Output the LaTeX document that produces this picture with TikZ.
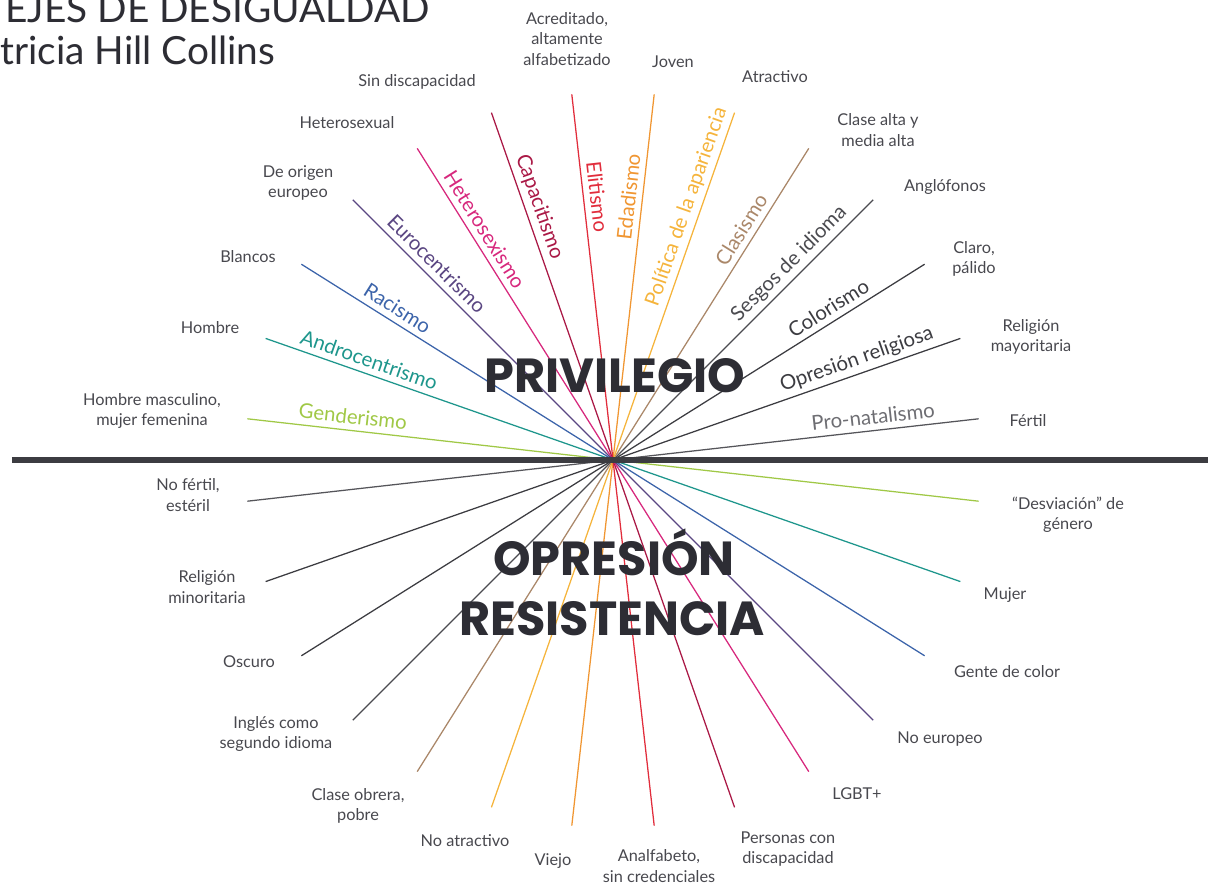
\documentclass[tikz,border=0pt]{standalone}
\usepackage{fontspec}
\setmainfont{Lato}
\newfontfamily\bigfont{Poppins}

\definecolor{ink}{RGB}{45,45,52}
\definecolor{labelgray}{RGB}{72,72,78}
\definecolor{gendercol}{RGB}{160,200,70}
\definecolor{androcol}{RGB}{30,150,140}
\definecolor{racecol}{RGB}{60,100,170}
\definecolor{eurocol}{RGB}{90,70,130}
\definecolor{heterocol}{RGB}{215,40,125}
\definecolor{abilitycol}{RGB}{170,25,70}
\definecolor{elitecol}{RGB}{225,45,60}
\definecolor{agecol}{RGB}{240,150,50}
\definecolor{looksc}{RGB}{245,180,60}
\definecolor{classcol}{RGB}{170,135,105}
\definecolor{langcol}{RGB}{75,75,80}
\definecolor{skincol}{RGB}{60,60,65}
\definecolor{faithcol}{RGB}{60,60,65}
\definecolor{natalcol}{RGB}{85,85,90}

\tikzset{
  ray/.style={line width=0.9pt},
  endlabel/.style={font=\fontsize{11.6}{14.5}\selectfont, text=labelgray, align=center, inner sep=0pt},
  axisname/.style={font=\fontsize{14.5}{17}\selectfont, inner sep=0pt},
  bigword/.style={font=\bigfont\bfseries\fontsize{34}{40}\selectfont, text=ink, anchor=base, inner sep=0pt},
  titletext/.style={font=\fontsize{27.6}{33}\selectfont, text=ink, anchor=base west, inner sep=0pt},
}

\begin{document}
\begin{tikzpicture}
  \useasboundingbox (-15.325,-10.675) rectangle (14.875,11.5);
  \coordinate (O) at (0,0);

  % ends of the fourteen axes
  \coordinate (natalU) at (6.43:9.2);    \coordinate (natalD) at (186.43:9.2);
  \coordinate (faithU) at (19.29:9.2);   \coordinate (faithD) at (199.29:9.2);
  \coordinate (skinU) at (32.14:9.2);    \coordinate (skinD) at (212.14:9.2);
  \coordinate (langU) at (45:9.2);       \coordinate (langD) at (225:9.2);
  \coordinate (classU) at (57.86:9.2);   \coordinate (classD) at (237.86:9.2);
  \coordinate (looksU) at (70.71:9.2);   \coordinate (looksD) at (250.71:9.2);
  \coordinate (ageU) at (83.57:9.2);     \coordinate (ageD) at (263.57:9.2);
  \coordinate (eliteU) at (96.43:9.2);   \coordinate (eliteD) at (276.43:9.2);
  \coordinate (abilityU) at (109.29:9.2);\coordinate (abilityD) at (289.29:9.2);
  \coordinate (heteroU) at (122.14:9.2); \coordinate (heteroD) at (302.14:9.2);
  \coordinate (euroU) at (135:9.2);      \coordinate (euroD) at (315:9.2);
  \coordinate (raceU) at (147.86:9.2);   \coordinate (raceD) at (327.86:9.2);
  \coordinate (androU) at (160.71:9.2);  \coordinate (androD) at (340.71:9.2);
  \coordinate (genderU) at (173.57:9.2); \coordinate (genderD) at (353.57:9.2);

  \draw[ray, natalcol] (natalU) -- (O) -- (natalD);
  \draw[ray, faithcol] (faithU) -- (O) -- (faithD);
  \draw[ray, skincol] (skinU) -- (O) -- (skinD);
  \draw[ray, langcol] (langU) -- (O) -- (langD);
  \draw[ray, classcol] (classU) -- (O) -- (classD);
  \draw[ray, looksc] (looksU) -- (O) -- (looksD);
  \draw[ray, agecol] (ageU) -- (O) -- (ageD);
  \draw[ray, elitecol] (eliteU) -- (O) -- (eliteD);
  \draw[ray, abilitycol] (abilityU) -- (O) -- (abilityD);
  \draw[ray, heterocol] (heteroU) -- (O) -- (heteroD);
  \draw[ray, eurocol] (euroU) -- (O) -- (euroD);
  \draw[ray, racecol] (raceU) -- (O) -- (raceD);
  \draw[ray, androcol] (androU) -- (O) -- (androD);
  \draw[ray, gendercol] (genderU) -- (O) -- (genderD);

  % dividing line
  \coordinate (baseW) at (-15.025,0);
  \coordinate (baseE) at (14.875,0);
  \draw[line width=3.6pt, skincol] (baseW) -- (baseE);

  % names of the axes
  \node[axisname, text=natalcol!85, rotate=6.43] (natal) at (9.48:6.59) {Pro-natalismo};
  \node[axisname, faithcol, rotate=19.29] (faith) at (22.34:6.59) {Opresión religiosa};
  \node[axisname, skincol, rotate=32.14] (skin) at (35.19:6.59) {Colorismo};
  \node[axisname, langcol, rotate=45] (lang) at (48.05:6.59) {Sesgos de idioma};
  \node[axisname, classcol, rotate=57.86] (class) at (60.91:6.59) {Clasismo};
  \node[axisname, looksc, rotate=70.71] (looks) at (73.76:6.59) {Política de la apariencia};
  \node[axisname, agecol, rotate=83.57] (age) at (86.62:6.59) {Edadismo};
  \node[axisname, elitecol, rotate=-83.57] (elite) at (93.38:6.59) {Elitismo};
  \node[axisname, abilitycol, rotate=-70.71] (ability) at (106.24:6.59) {Capacitismo};
  \node[axisname, heterocol, rotate=-57.86] (hetero) at (119.09:6.59) {Heterosexismo};
  \node[axisname, eurocol, rotate=-45] (euro) at (131.95:6.59) {Eurocentrismo};
  \node[axisname, racecol, rotate=-32.14] (race) at (144.81:6.59) {Racismo};
  \node[axisname, androcol, rotate=-19.29] (andro) at (157.66:6.59) {Androcentrismo};
  \node[axisname, gendercol, rotate=-6.43] (gender) at (170.52:6.59) {Genderismo};

  % privileged side
  \node[endlabel] (lFertil) at (10.375,0.975) {Fértil};
  \node[endlabel] (lMayor) at (10.45,3.075) {Religión\\mayoritaria};
  \node[endlabel] (lClaro) at (9.025,5.025) {Claro,\\pálido};
  \node[endlabel] (lAnglo) at (8.3,6.825) {Anglófonos};
  \node[endlabel] (lAlta) at (6.625,8.25) {Clase alta y\\media alta};
  \node[endlabel] (lAtract) at (4.05,9.575) {Atractivo};
  \node[endlabel] (lJoven) at (1.5,9.95) {Joven};
  \node[endlabel] (lAcred) at (-1.15,10.525) {Acreditado,\\altamente\\alfabetizado};
  \node[endlabel] (lSinDis) at (-4.9,9.45) {Sin discapacidad};
  \node[endlabel] (lHetero) at (-6.65,8.425) {Heterosexual};
  \node[endlabel] (lEuro) at (-7.875,6.925) {De origen\\europeo};
  \node[endlabel] (lBlanco) at (-9.125,5.075) {Blancos};
  \node[endlabel] (lHombre) at (-10.075,3.3) {Hombre};
  \node[endlabel] (lMasc) at (-11.525,1.225) {Hombre masculino,\\mujer femenina};

  % oppressed side
  \node[endlabel] (lNoFertil) at (-10.625,-0.875) {No fértil,\\estéril};
  \node[endlabel] (lMinor) at (-10.15,-3.175) {Religión\\minoritaria};
  \node[endlabel] (lOscuro) at (-9.1,-5.05) {Oscuro};
  \node[endlabel] (lIngles) at (-8.425,-6.85) {Inglés como\\segundo idioma};
  \node[endlabel] (lObrera) at (-6.375,-8.65) {Clase obrera,\\pobre};
  \node[endlabel] (lNoAtract) at (-3.7,-9.525) {No atractivo};
  \node[endlabel] (lViejo) at (-1.5,-10.025) {Viejo};
  \node[endlabel] (lAnalf) at (1.15,-10.15) {Analfabeto,\\sin credenciales};
  \node[endlabel] (lConDis) at (4.375,-9.725) {Personas con\\discapacidad};
  \node[endlabel] (lLGBT) at (6.1,-8.35) {LGBT+};
  \node[endlabel] (lNoEuro) at (8.175,-6.975) {No europeo};
  \node[endlabel] (lColor) at (9.85,-5.3) {Gente de color};
  \node[endlabel] (lMujer) at (9.8,-3.375) {Mujer};
  \node[endlabel] (lDesv) at (11.375,-1.375) {“Desviación” de\\género};

  % big words
  \node[bigword] (priv) at (0.05,1.675) {PRIVILEGIO};
  \node[bigword] (opres) at (0.025,-2.875) {OPRESIÓN};
  \node[bigword] (resist) at (-0.025,-4.375) {RESISTENCIA};

  % title, cropped at the left edge
  \node[titletext] (title) at (-15.2,10.925) {EJES DE DESIGUALDAD};
  \node[titletext] (author) at (-15.325,9.875) {tricia Hill Collins};
\end{tikzpicture}
\end{document}
